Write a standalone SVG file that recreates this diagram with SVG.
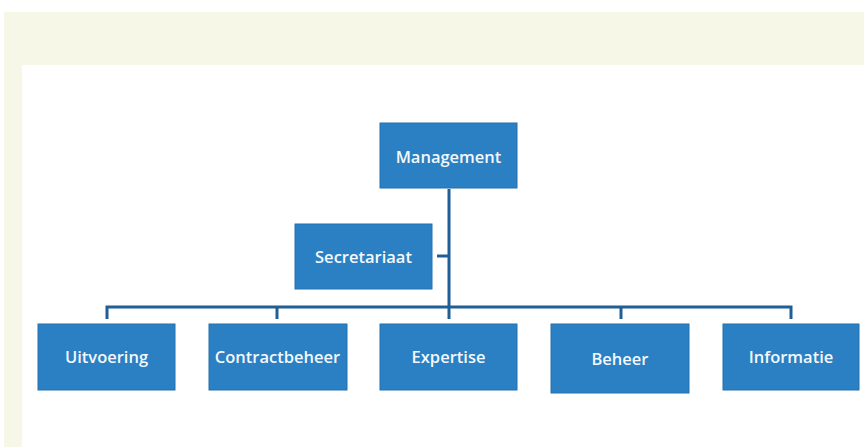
<svg xmlns="http://www.w3.org/2000/svg" width="864" height="447" viewBox="0 0 864 447">
  <style>
    .box { fill: #2a80c2; stroke: #2371ae; stroke-width: 1; }
    .lbl { fill: #f4f8fc; font-family: "Open Sans", "Liberation Sans", sans-serif; font-size: 16.5px; font-weight: 600; text-anchor: middle; dominant-baseline: central; }
    .wire { fill: none; stroke: #1f5f95; stroke-width: 3; }
  </style>
  <!-- page frame -->
  <rect x="0" y="0" width="864" height="447" fill="#ffffff"/>
  <rect x="4" y="12" width="860" height="53" fill="#f7f7e8"/>
  <rect x="4" y="12" width="18" height="435" fill="#f7f7e8"/>

  <g id="connectors">
    <path class="wire" d="M449 189 V307"/>
    <path class="wire" d="M437 256 H449"/>
    <path class="wire" d="M107 319 V307 H791 V319"/>
    <path class="wire" d="M277 307 V319"/>
    <path class="wire" d="M449 307 V319"/>
    <path class="wire" d="M621 307 V319"/>
  </g>

  <g id="management">
    <rect class="box" x="380" y="123" width="137" height="65"/>
    <text class="lbl" x="448.5" y="156">Management</text>
  </g>
  <g id="secretariaat">
    <rect class="box" x="295" y="224" width="137" height="65"/>
    <text class="lbl" x="363.5" y="256">Secretariaat</text>
  </g>
  <g id="uitvoering">
    <rect class="box" x="38" y="324" width="137" height="66"/>
    <text class="lbl" x="106.5" y="356">Uitvoering</text>
  </g>
  <g id="contractbeheer">
    <rect class="box" x="209" y="324" width="138" height="66"/>
    <text class="lbl" x="277.5" y="356">Contractbeheer</text>
  </g>
  <g id="expertise">
    <rect class="box" x="380" y="324" width="137" height="66"/>
    <text class="lbl" x="448.5" y="356">Expertise</text>
  </g>
  <g id="beheer">
    <rect class="box" x="551" y="324" width="138" height="69"/>
    <text class="lbl" x="620" y="358">Beheer</text>
  </g>
  <g id="informatie">
    <rect class="box" x="723" y="324" width="136" height="66"/>
    <text class="lbl" x="791" y="356">Informatie</text>
  </g>
</svg>
